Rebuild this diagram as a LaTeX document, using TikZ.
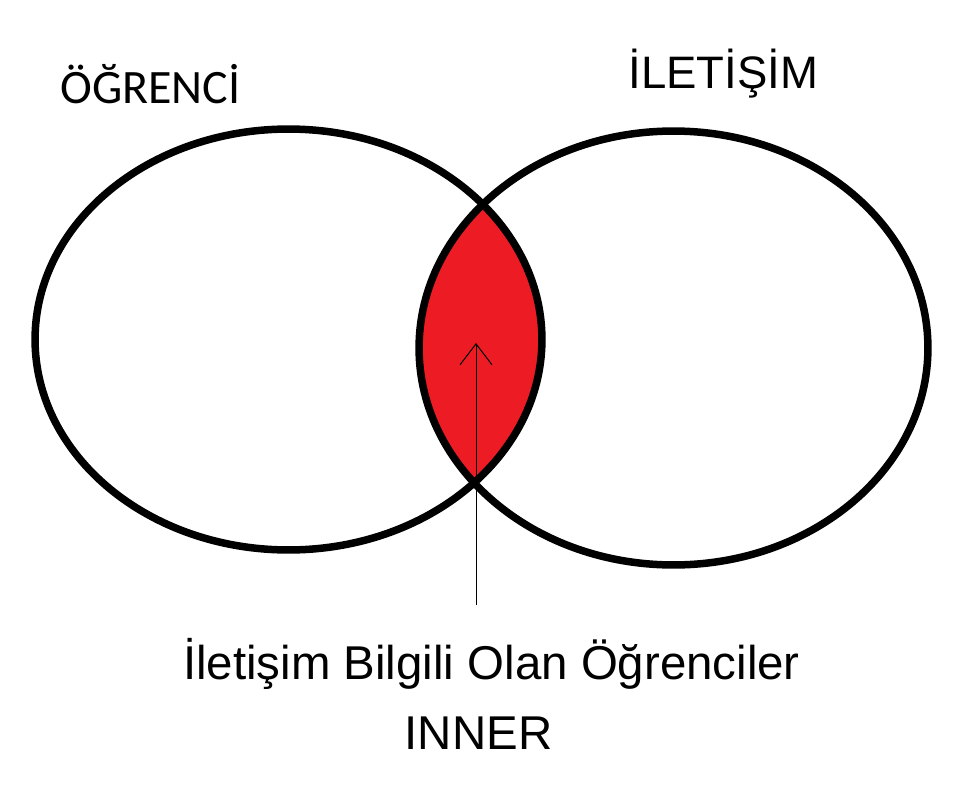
\documentclass[tikz,border=0pt]{standalone}
\usepackage{fontspec}
\setmainfont{Liberation Sans}
\newfontfamily\calfont{Carlito}
\usetikzlibrary{arrows.meta,positioning}
\definecolor{lensred}{HTML}{ED1C24}

\begin{document}
\begin{tikzpicture}[x=0.02cm,y=-0.02cm,>={Straight Barb[length=0.42cm,width=0.64cm]},
  every node/.style={inner sep=0pt,font=\fontsize{27}{32}\selectfont},
  ring/.style={line width=0.15cm}]
\useasboundingbox (0,0) rectangle (961,805);
% the common part
\begin{scope}
\clip (288.5,339.5) ellipse [x radius=5.07cm, y radius=4.21cm];
\fill[lensred] (673.5,348) ellipse [x radius=5.09cm, y radius=4.34cm];
\end{scope}
\draw[ring] (288.5,339.5) ellipse [x radius=5.07cm, y radius=4.21cm];
\draw[ring] (673.5,348) ellipse [x radius=5.09cm, y radius=4.34cm];
\node (ogrenci) [anchor=base west,font=\calfont\fontsize{27.3}{32}\selectfont] at (60,103) {ÖĞRENCİ};
\node (iletisim) [anchor=base west,font=\fontsize{25.9}{30}\selectfont] at (628,88) {İLETİŞİM};
\node (aciklama) [anchor=base] at (491.5,679) {İletişim Bilgili Olan Öğrenciler};
\node (inner) [anchor=base] at ([xshift=-0.26cm,yshift=-1.42cm]aciklama.base) {INNER};
\coordinate (tail) at (476,605);
\coordinate (tip) at (476,343);
\draw[->,line width=0.02cm] (tail) -- (tip);
\end{tikzpicture}
\end{document}
